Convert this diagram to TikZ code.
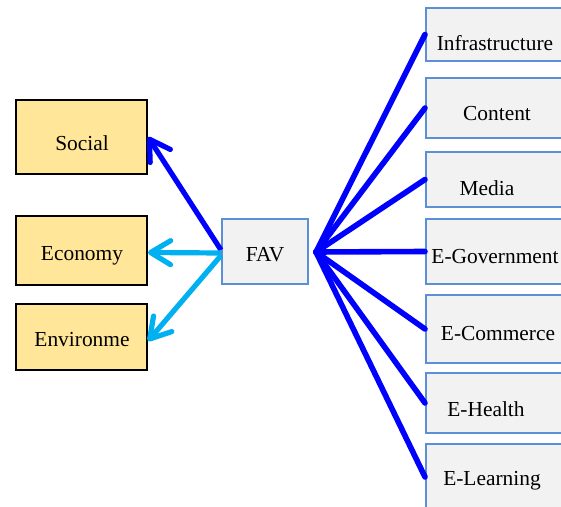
\documentclass[tikz,border=0pt]{standalone}
\usepackage{fontspec}
\setmainfont{Liberation Serif}
\usetikzlibrary{arrows.meta}
\definecolor{lfill}{HTML}{FFE699}
\definecolor{rfill}{HTML}{F2F2F2}
\definecolor{rline}{HTML}{5B8FD6}
\definecolor{dblue}{RGB}{0,0,255}
\definecolor{lblue}{HTML}{00B0F0}
\tikzset{
  lbox/.style={draw=black, line width=1pt, fill=lfill, minimum width=65.5pt},
  rbox/.style={draw=rline, line width=1pt, fill=rfill, minimum width=70pt},
  lbl/.style={font=\fontsize{10.7}{13}\selectfont, inner sep=0pt},
  spoke/.style={dblue, line width=2.8pt, line cap=round},
  outarrow/.style={line width=2.6pt, -{Straight Barb[length=10pt,width=12pt,round]}}
}

\begin{document}
\begin{tikzpicture}[x=0.5pt, y=-0.5pt]
  \useasboundingbox (0,0) rectangle (561,507);
  % left side
  \node[lbox, minimum height=37pt] (social) at (81.5,137) {};
  \node[lbox, minimum height=34.5pt] (economy) at (81.5,250.5) {};
  \node[lbox, minimum height=33pt] (environ) at (81.5,337) {};
  \node[lbl] (social-t) at (82,143) {Social};
  \node[lbl] (economy-t) at (82,256) {Economy};
  \node[lbl] (environ-t) at (82,340) {Environme};
  %
  \node[rbox, minimum width=43pt, minimum height=32.5pt] (fav) at (265,251.5) {};
  \node[lbl] (fav-t) at (265,255) {FAV};
  % right side
  \node[rbox, minimum height=26.5pt] (infra) at (496,34.5) {};
  \node[rbox, minimum height=30pt] (content) at (496,108) {};
  \node[rbox, minimum height=27.5pt] (media) at (496,179.5) {};
  \node[rbox, minimum height=32.5pt] (egov) at (496,251.5) {};
  \node[rbox, minimum height=34pt] (ecom) at (496,329) {};
  \node[rbox, minimum height=30pt] (ehealth) at (496,403) {};
  \node[rbox, minimum height=33pt] (elearn) at (496,477) {};
  \node[lbl] (infra-t) at (495,43) {Infrastructure};
  \node[lbl] (content-t) at (497,114) {Content};
  \node[lbl] (media-t) at (487,188) {Media};
  \node[lbl] (egov-t) at (495,257) {E-Government};
  \node[lbl] (ecom-t) at (498,334) {E-Commerce};
  \node[lbl] (ehealth-t) at (486,409) {E-Health};
  \node[lbl] (elearn-t) at (492,481) {E-Learning};
  %
  \coordinate (hub) at (316,252);
  \foreach \b in {infra,content,media,egov,ecom,ehealth,elearn}
    \draw[spoke] (hub) -- (\b.west);
  %
  \draw[outarrow, dblue] ([yshift=0.75]fav.west) -- (social.east);
  \draw[outarrow, lblue] ([yshift=-0.75]fav.west) -- ([yshift=-1]economy.east);
  \draw[outarrow, lblue] ([yshift=-2]fav.west) -- ([yshift=-2]environ.east);
\end{tikzpicture}
\end{document}
